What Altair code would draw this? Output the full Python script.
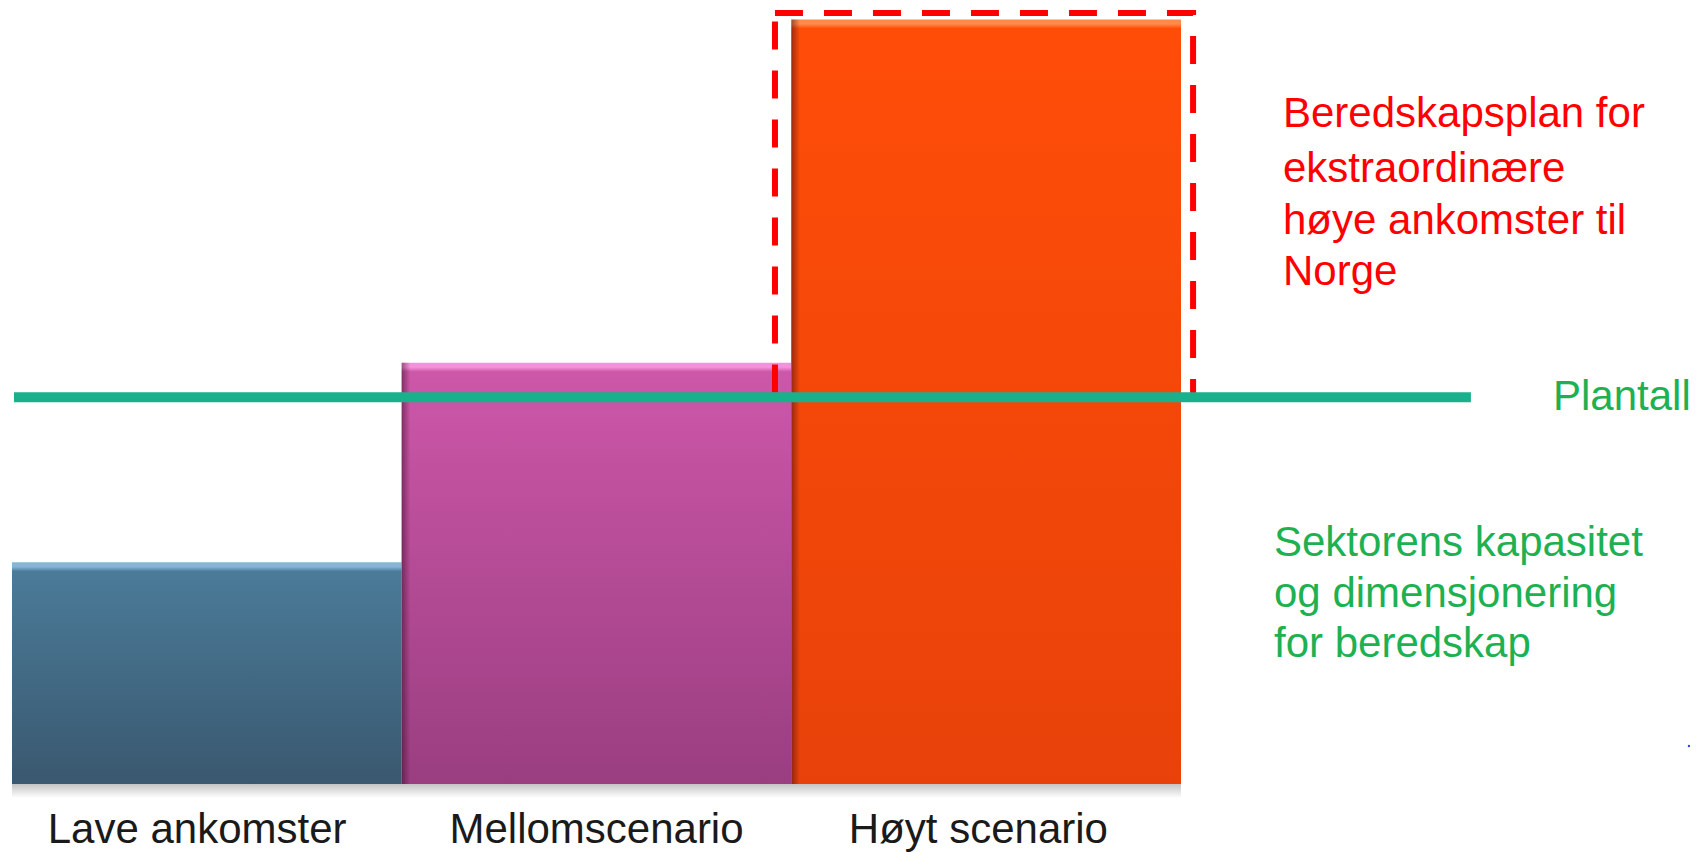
import altair as alt
import pandas as pd

# ---------------- data ----------------
categories = ["Lave ankomster", "Mellomscenario", "Høyt scenario"]
values = [29.0, 55.1, 100.0]
positions = [0, 1, 2]
label_pos = [0.475, 1.5, 2.48]
plantall = 50.6
box_x = [1.958, 3.031]
box_y = [plantall, 100.85]
line_x = [0.005, 3.744]

red_lines = ["Beredskapsplan for", "ekstraordinære", "høye ankomster til", "Norge"]
green_lines = ["Sektorens kapasitet", "og dimensjonering", "for beredskap"]
plantall_label = "Plantall"

# ---------------- style ----------------
top_colors = ["#4a7b99", "#cd57a9", "#ff4d08"]
bottom_colors = ["#3a586f", "#9a3e80", "#e8420a"]
bevel_colors = ["#86b6d6", "#f690da", "#ff8a4a"]
FONT = "Liberation Sans"
W, H = 1682, 844
Y_RANGE = [776, 11.5]
X_RANGE = [4, 1173]
px_per_unit = (Y_RANGE[0] - Y_RANGE[1]) / 100.0

xs = alt.Scale(domain=[0, 3], range=X_RANGE)
ys = alt.Scale(domain=[0, 100], range=Y_RANGE)

bars_df = pd.DataFrame({
    "cat": categories,
    "idx": positions,
    "x0": [p for p in positions],
    "x1": [p + 1 for p in positions],
    "xe": [p + 0.022 for p in positions],
    "xc": label_pos,
    "v": values,
    "zero": [0, 0, 0],
})

layers = []

# soft shadow under bars
shadow = alt.Chart(pd.DataFrame({"a": [0], "b": [3]})).mark_rect(
    color=alt.Gradient(gradient="linear", x1=0, x2=0, y1=0, y2=1,
                       stops=[alt.GradientStop(color="#c4c4c4", offset=0),
                              alt.GradientStop(color="#ffffff", offset=1)])
).encode(
    x=alt.X("a:Q", scale=xs, axis=None),
    x2="b:Q",
    y=alt.value(Y_RANGE[0]),
    y2=alt.value(Y_RANGE[0] + 14),
)
layers.append(shadow)

for i in positions:
    hpx = values[i] * px_per_unit
    b = 9.0 / hpx
    grad = alt.Gradient(
        gradient="linear", x1=0, x2=0, y1=0, y2=1,
        stops=[
            alt.GradientStop(color=bevel_colors[i], offset=0),
            alt.GradientStop(color=bevel_colors[i], offset=b * 0.5),
            alt.GradientStop(color=top_colors[i], offset=b),
            alt.GradientStop(color=bottom_colors[i], offset=1),
        ],
    )
    layers.append(
        alt.Chart(bars_df).transform_filter(alt.datum.idx == i).mark_rect(color=grad).encode(
            x=alt.X("x0:Q", scale=xs, axis=None),
            x2="x1:Q",
            y=alt.Y("v:Q", scale=ys, axis=None),
            y2="zero:Q",
        )
    )

# dark left edge shading on the 2nd and 3rd bar
edge = alt.Chart(bars_df).transform_filter(alt.datum.idx > 0).mark_rect(
    color=alt.Gradient(gradient="linear", x1=0, x2=1, y1=0, y2=0,
                       stops=[alt.GradientStop(color="rgba(40,0,20,0.45)", offset=0),
                              alt.GradientStop(color="rgba(40,0,20,0)", offset=1)])
).encode(
    x=alt.X("x0:Q", scale=xs, axis=None),
    x2="xe:Q",
    y=alt.Y("v:Q", scale=ys, axis=None),
    y2="zero:Q",
)
layers.append(edge)

# dashed box
box = alt.Chart(pd.DataFrame({"x0": [box_x[0]], "x1": [box_x[1]], "y0": [box_y[0]], "y1": [box_y[1]]})).mark_rect(
    fillOpacity=0, stroke="#ff0000", strokeWidth=6, strokeDash=[28, 21]
).encode(
    x=alt.X("x0:Q", scale=xs, axis=None), x2="x1:Q",
    y=alt.Y("y1:Q", scale=ys, axis=None), y2="y0:Q",
)
layers.append(box)

# plantall line
line = alt.Chart(pd.DataFrame({"x0": [line_x[0]], "x1": [line_x[1]], "y": [plantall]})).mark_rule(
    color="#19b08b", strokeWidth=10
).encode(
    x=alt.X("x0:Q", scale=xs, axis=None), x2="x1:Q",
    y=alt.Y("y:Q", scale=ys, axis=None),
)
layers.append(line)

# category labels
labels = alt.Chart(bars_df).mark_text(
    font=FONT, fontSize=42, color="#1a1a1a", baseline="middle", align="center"
).encode(
    x=alt.X("xc:Q", scale=xs, axis=None),
    y=alt.value(822),
    text="cat:N",
)
layers.append(labels)

# annotations
red_y = [106, 161, 213, 264]
green_y = [535, 586, 636]
ann = pd.DataFrame({
    "t": red_lines + green_lines + [plantall_label],
    "px": [1275] * 4 + [1266] * 3 + [1545],
    "py": red_y + green_y + [389],
    "c": ["#ff0000"] * 4 + ["#1db152"] * 4,
})
ann_text = alt.Chart(ann).mark_text(
    font=FONT, fontSize=42, baseline="middle", align="left"
).encode(
    x=alt.X("px:Q", scale=None),
    y=alt.Y("py:Q", scale=None),
    text="t:N",
    color=alt.Color("c:N", scale=None, legend=None),
)
layers.append(ann_text)

dot = alt.Chart(pd.DataFrame({"px": [1681], "py": [738]})).mark_point(
    filled=True, size=6, color="#3040ff", opacity=1
).encode(x=alt.X("px:Q", scale=None), y=alt.Y("py:Q", scale=None))
layers.append(dot)

chart = alt.layer(*layers).properties(
    width=W, height=H, autosize="none", padding=0, background="white"
).configure_view(stroke=None)

chart.save("out.html", embed_options={"renderer": "svg", "actions": False})
